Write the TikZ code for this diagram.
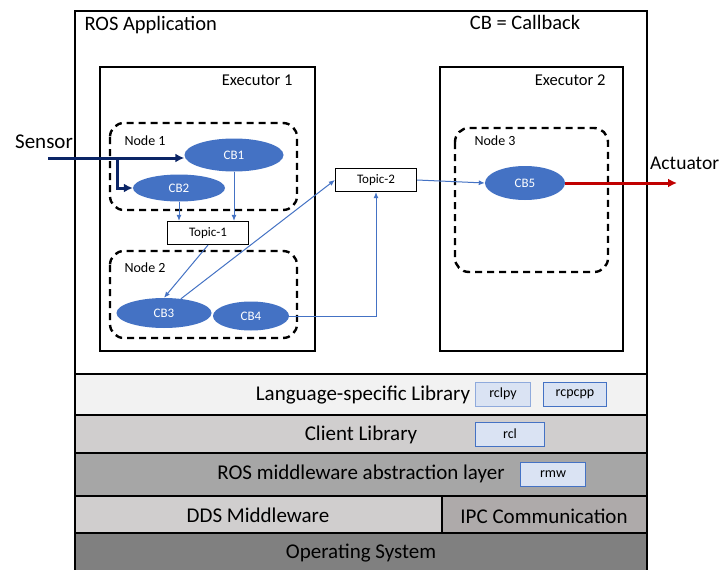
\documentclass[tikz,border=0pt]{standalone}
\usepackage{fontspec}
\setmainfont{Carlito}
\usetikzlibrary{positioning,shapes.geometric,arrows.meta}

\definecolor{cbblue}{HTML}{4472C4}
\definecolor{sensnavy}{HTML}{0B2566}
\definecolor{actred}{HTML}{C00000}
\definecolor{langgray}{HTML}{F2F2F2}
\definecolor{clientgray}{HTML}{D0CECE}
\definecolor{rmwgray}{HTML}{A6A6A6}
\definecolor{ipcgray}{HTML}{AEAAAA}
\definecolor{osgray}{HTML}{808080}
\definecolor{libfill}{HTML}{DAE3F3}
\definecolor{libedge}{HTML}{8FAADC}

\tikzset{
	cb/.style={ellipse, fill=cbblue, text=white, inner sep=0pt, font=\fontsize{13}{15}\selectfont},
	topic/.style={draw, line width=1.2pt, fill=white, minimum width=81pt, minimum height=23pt, inner sep=0pt, font=\fontsize{13}{15}\selectfont},
	lib/.style={draw=cbblue, line width=1pt, fill=libfill, minimum height=24pt, inner sep=0pt, font=\fontsize{14}{16}\selectfont},
	layer/.style={draw, line width=1.4pt},
	layertext/.style={font=\fontsize{21}{24}\selectfont},
	execbox/.style={draw, line width=2pt},
	execlbl/.style={anchor=east, font=\fontsize{16.5}{19}\selectfont},
	nodelbl/.style={anchor=west, font=\fontsize{14}{16}\selectfont},
	rosnode/.style={draw, line width=2.4pt, dash pattern=on 7pt off 5pt, rounded corners=14pt},
	flow/.style={cbblue, line width=1pt, -{Latex[length=6pt,width=5pt]}},
	bigflow/.style={line width=3pt, -{Latex[length=9pt,width=9pt]}}
}

\begin{document}
\begin{tikzpicture}[x=1pt, y=-1pt]
		\useasboundingbox (0,0) rectangle (724,570);

		% software stack
		\draw[layer, fill=white] (75,11) rectangle (647,374);
		\draw[layer, fill=langgray] (75,374) rectangle (647,415);
		\draw[layer, fill=clientgray] (75,415) rectangle (647,453);
		\draw[layer, fill=rmwgray] (75,453) rectangle (647,496);
		\draw[layer, fill=clientgray] (75,496) rectangle (442,533);
		\draw[layer, fill=ipcgray] (442,496) rectangle (647,533);
		\draw[layer, fill=osgray] (75,533) rectangle (647,572);

		\draw (363,395) node [layertext] (langlbl) {Language-specific Library};
		\draw (503,394) node [lib, draw=libedge, minimum width=55pt] (rclpy) {rclpy};
		\draw (575,394) node [lib, minimum width=63pt] (rclcpp) {rcpcpp};
		\draw (361,435) node [layertext] (clientlbl) {Client Library};
		\draw (510,434) node [lib, minimum width=69pt] (rcl) {rcl};
		\draw (361,474) node [layertext] (rmwlbl) {ROS middleware abstraction layer};
		\draw (553,474) node [lib, minimum width=65pt] (rmw) {rmw};
		\draw (258,515) node [layertext] (ddslbl) {DDS Middleware};
		\draw (544,516) node [layertext] (ipclbl) {IPC Communication};
		\draw (361,553) node [layertext] (oslbl) {Operating System};

		% application
		\draw (81,25) node [anchor=west, font=\fontsize{20.5}{23}\selectfont] (applbl) {ROS Application};
		\draw (525,22) node [font=\fontsize{20.5}{23}\selectfont] (cblbl) {CB = Callback};

		\draw[execbox] (100,67) rectangle (315,351);
		\draw (296,80) node [execlbl] (exec1) {Executor 1};
		\draw[execbox] (440,67) rectangle (623,351);
		\draw (609,80) node [execlbl] (exec2) {Executor 2};

		\draw[rosnode] (110,123) rectangle (297,210);
		\draw (121,141) node [nodelbl] (node1) {Node 1};
		\draw[rosnode] (110,251) rectangle (297,338);
		\draw (121,268) node [nodelbl] (node2) {Node 2};
		\draw[rosnode] (455,128) rectangle (608,272);
		\draw (471,141) node [nodelbl] (node3) {Node 3};

		\draw (234,155) node [cb, minimum width=99pt, minimum height=33pt] (cb1) {CB1};
		\draw (179,188) node [cb, minimum width=92pt, minimum height=27pt] (cb2) {CB2};
		\draw (164,313) node [cb, minimum width=95pt, minimum height=30pt] (cb3) {CB3};
		\draw (251,316) node [cb, minimum width=76pt, minimum height=29pt] (cb4) {CB4};
		\draw (525,183) node [cb, minimum width=80pt, minimum height=34pt] (cb5) {CB5};

		\draw (208,233) node [topic] (topic1) {Topic-1};
		\draw (376,180) node [topic] (topic2) {Topic-2};

		% sensor and actuator
		\draw (44,142) node [font=\fontsize{21}{24}\selectfont] (sensor) {Sensor};
		\draw (650,163) node [anchor=west, inner sep=0pt, font=\fontsize{19.5}{22}\selectfont] (actuator) {Actuator};
		\coordinate (sensin) at (48,158);
		\coordinate (split) at (117,158);
		\coordinate (actout) at (677,183);
		\draw[sensnavy, bigflow] (sensin) -- (cb1.west |- sensin);
		\draw[sensnavy, bigflow] (split) |- (cb2);
		\draw[actred, bigflow] (cb5) -- (actout);

		% data flow
		\draw[flow] (cb2.south) -- (cb2.south |- topic1.north);
		\draw[flow] (cb1.south) -- (cb1.south |- topic1.north);
		\draw[flow] (topic1.south) -- (cb3.north);
		\draw[flow] (cb3.40) -- (topic2.west);
		\draw[flow] (cb4.east) -| (topic2.south);
		\draw[flow] (topic2.east) -- (cb5.west);
	\end{tikzpicture}
\end{document}
